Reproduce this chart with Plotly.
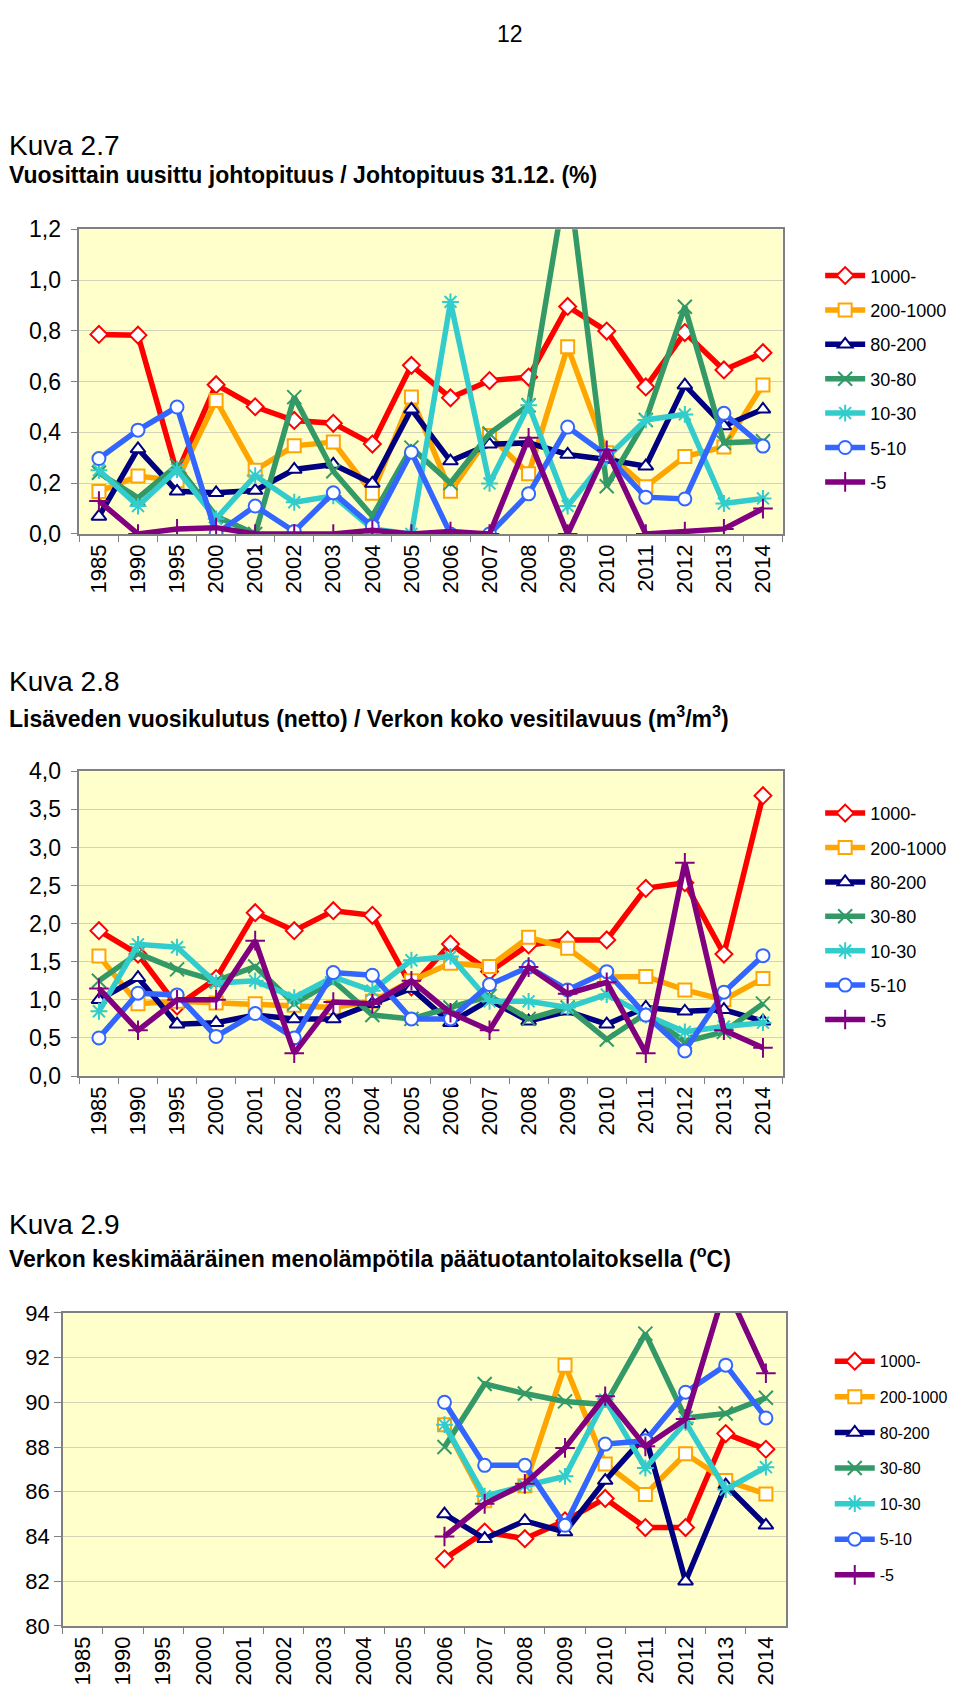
import plotly.graph_objects as go

years = ["1985", "1990", "1995", "2000", "2001", "2002", "2003", "2004", "2005",
         "2006", "2007", "2008", "2009", "2010", "2011", "2012", "2013", "2014"]
series_names = ["1000-", "200-1000", "80-200", "30-80", "10-30", "5-10", "-5"]

# Kuva 2.7  (%)
c1_1000 = [0.786, 0.783, 0.24, 0.588, 0.501, 0.447, 0.436, 0.354, 0.664, 0.536, 0.604, 0.618, 0.896, 0.799, 0.579, 0.793, 0.646, 0.714]
c1_200 = [0.167, 0.228, 0.21, 0.526, 0.251, 0.347, 0.362, 0.16, 0.539, 0.168, 0.388, 0.237, 0.737, 0.32, 0.186, 0.305, 0.343, 0.587]
c1_80 = [0.069, 0.335, 0.168, 0.162, 0.171, 0.254, 0.274, 0.199, 0.491, 0.287, 0.353, 0.359, 0.313, 0.293, 0.267, 0.586, 0.425, 0.491]
c1_30 = [0.241, 0.142, 0.27, 0.07, 0.0, 0.539, 0.247, 0.07, 0.34, 0.201, 0.396, 0.507, 1.43, 0.188, 0.449, 0.895, 0.359, 0.365]
c1_10 = [0.251, 0.11, 0.254, 0.06, 0.23, 0.125, 0.15, 0.02, 0.0, 0.914, 0.199, 0.507, 0.11, 0.3, 0.449, 0.471, 0.12, 0.14]
c1_5 = [0.297, 0.409, 0.5, 0.0, 0.11, 0.01, 0.162, 0.03, 0.322, 0.0, 0.0, 0.158, 0.421, 0.31, 0.145, 0.138, 0.475, 0.346]
c1_m5 = [0.13, 0.0, 0.02, 0.025, 0.0, 0.0, 0.0, 0.015, 0.0, 0.01, 0.0, 0.379, 0.0, 0.33, 0.0, 0.01, 0.02, 0.1]

# Kuva 2.8  (m3/m3)
c2_1000 = [1.908, 1.6, 0.92, 1.28, 2.144, 1.908, 2.17, 2.11, 1.17, 1.733, 1.371, 1.72, 1.786, 1.786, 2.463, 2.537, 1.6, 3.68]
c2_200 = [1.576, 0.95, 0.98, 0.96, 0.95, 0.93, 0.9, 0.98, 1.25, 1.48, 1.437, 1.82, 1.677, 1.3, 1.306, 1.13, 1.0, 1.28]
c2_80 = [1.0, 1.29, 0.68, 0.7, 0.8, 0.75, 0.75, 0.95, 1.15, 0.7, 1.0, 0.72, 0.85, 0.68, 0.9, 0.85, 0.87, 0.72]
c2_30 = [1.25, 1.61, 1.4, 1.25, 1.437, 0.95, 1.25, 0.8, 0.75, 0.9, 1.05, 0.75, 0.9, 0.48, 0.82, 0.45, 0.58, 0.95]
c2_10 = [0.85, 1.729, 1.69, 1.22, 1.249, 1.03, 1.3, 1.12, 1.52, 1.57, 0.98, 0.98, 0.9, 1.07, 0.8, 0.58, 0.65, 0.7]
c2_5 = [0.5, 1.087, 1.065, 0.52, 0.82, 0.5, 1.358, 1.323, 0.75, 0.75, 1.2, 1.43, 1.13, 1.37, 0.8, 0.33, 1.1, 1.58]
c2_m5 = [1.15, 0.6, 1.0, 1.0, 1.777, 0.3, 0.97, 0.95, 1.25, 0.83, 0.6, 1.43, 1.08, 1.23, 0.3, 2.8, 0.6, 0.37]

# Kuva 2.9  (deg C), data from 2006 on
N = None
c3_1000 = [N]*9 + [83.0, 84.2, 83.9, 84.7, 85.7, 84.4, 84.4, 88.6, 87.9]
c3_200 = [N]*9 + [89.0, 85.6, 86.27, 91.66, 87.24, 85.88, 87.7, 86.5, 85.9]
c3_80 = [N]*9 + [85.0, 83.9, 84.7, 84.2, 86.5, 88.5, 82.0, 86.3, 84.5]
c3_30 = [N]*9 + [88.0, 90.82, 90.39, 90.04, 89.9, 93.07, 89.3, 89.5, 90.2]
c3_10 = [N]*9 + [89.0, 85.8, 86.27, 86.69, 90.12, 87.06, 89.1, 86.1, 87.1]
c3_5 = [N]*9 + [90.0, 87.18, 87.18, 84.5, 88.13, 88.28, 90.45, 91.66, 89.3]
c3_m5 = [N]*9 + [84.0, 85.46, 86.36, 87.96, 90.27, 88.03, 89.25, 95.2, 91.3]

colors = ["#FF0000", "#FFA500", "#000080", "#339966", "#33CCCC", "#3366FF", "#800080"]
symbols = ["diamond", "square", "triangle-up", "x-thin-open", "asterisk-open", "circle", "cross-thin-open"]
filled = [True, True, True, False, False, True, False]

W, H = 960, 1691
FONT = "Liberation Sans, Arial, sans-serif"

fig = go.Figure()

# data, top, bottom, yrange, dtick, left, right, legend, legend top, legend x, legend font, legend gap, label standoff
charts = [
    ([c1_1000, c1_200, c1_80, c1_30, c1_10, c1_5, c1_m5], 211.5, 521, [0, 1.2], 0.2, 71.4, 774.5, "legend", 240, 0.846, 18, 8, 5),
    ([c2_1000, c2_200, c2_80, c2_30, c2_10, c2_5, c2_m5], 762, 1071.5, [0, 4.0], 0.5, 71.4, 774.5, "legend2", 786, 0.846, 18, 8, 5),
    ([c3_1000, c3_200, c3_80, c3_30, c3_10, c3_5, c3_m5], 1312, 1630, [80, 94], 2, 54.8, 778, "legend3", 1344, 0.856, 16, 11.8, 0),
]

layout_updates = {}
for ci, (data, top, bot, yr, dt, left, right, legname, legtop, legx, legfs, leggap, standoff) in enumerate(charts):
    ax = "" if ci == 0 else str(ci + 1)
    for si, vals in enumerate(data):
        mk = dict(symbol=symbols[si], size=13 if filled[si] else 14,
                  color="white" if filled[si] else colors[si],
                  line=dict(color=colors[si], width=2))
        fig.add_trace(go.Scatter(
            x=years, y=vals, mode="lines+markers", name=series_names[si],
            line=dict(color=colors[si], width=5.5),
            marker=mk, cliponaxis=True, legend=legname,
            legendgroup=f"g{ci}_{si}",
            xaxis="x" + ax, yaxis="y" + ax, connectgaps=False))
    layout_updates["xaxis" + ax] = dict(
        domain=[left / W, right / W], anchor="y" + ax, type="category",
        categoryorder="array", categoryarray=years,
        tickangle=-90, tickson="boundaries", ticks="outside", ticklen=6,
        tickcolor="#808080", showline=True, linecolor="#808080", linewidth=1.5,
        mirror=True, showgrid=False, tickfont=dict(size=22, color="black", family=FONT),
        range=[-0.5, 17.5])
    layout_updates["yaxis" + ax] = dict(
        domain=[1 - bot / H, 1 - top / H], anchor="x" + ax, range=yr, dtick=dt,
        tickformat=".1f" if ci < 2 else "d", ticks="outside", ticklen=7,
        ticklabelstandoff=standoff,
        tickcolor="#808080", showline=True, linecolor="#808080", linewidth=1.5,
        mirror=True, showgrid=True, gridcolor="#D4D2B8", gridwidth=1.2,
        zeroline=False, tickfont=dict(size=23 if ci < 2 else 22, color="black", family=FONT))
    layout_updates[legname] = dict(
        x=legx, y=1 - legtop / H, xanchor="left", yanchor="top",
        bgcolor="rgba(0,0,0,0)", font=dict(size=legfs, family=FONT, color="black"),
        tracegroupgap=leggap, itemwidth=40)

fig.update_layout(**layout_updates)

annots = [
    dict(text="12", y=13, size=23, bold=False, page=True),
    dict(text="Kuva 2.7", y=126, size=28, bold=False),
    dict(text="Vuosittain uusittu johtopituus / Johtopituus 31.12. (%)", y=156, size=23, bold=True),
    dict(text="Kuva 2.8", y=671, size=28, bold=False),
    dict(text="Lisäveden vuosikulutus (netto) / Verkon koko vesitilavuus (m<sup>3</sup>/m<sup>3</sup>)", y=706.5, size=23, bold=True),
    dict(text="Kuva 2.9", y=1222.8, size=28, bold=False),
    dict(text="Verkon keskimääräinen menolämpötila päätuotantolaitoksella (<sup>o</sup>C)", y=1255.5, size=23, bold=True),
]
for a in annots:
    t = f"<b>{a['text']}</b>" if a["bold"] else a["text"]
    if a.get("page"):
        xa, xx, xs = "center", 502 / W, 0
    else:
        xa, xx, xs = "left", 0, -1.5
    fig.add_annotation(text=t, x=xx, xshift=xs, y=1 - a["y"] / H, xref="paper", yref="paper",
                       xanchor=xa, yanchor="middle", showarrow=False,
                       font=dict(size=a["size"], family=FONT, color="black"))

fig.update_layout(
    width=W, height=H, margin=dict(l=0, r=0, t=0, b=0),
    paper_bgcolor="white", plot_bgcolor="#FFFFCC",
    separators=", ", showlegend=True,
    font=dict(family=FONT, color="black"),
)
fig.write_html("out.html")
